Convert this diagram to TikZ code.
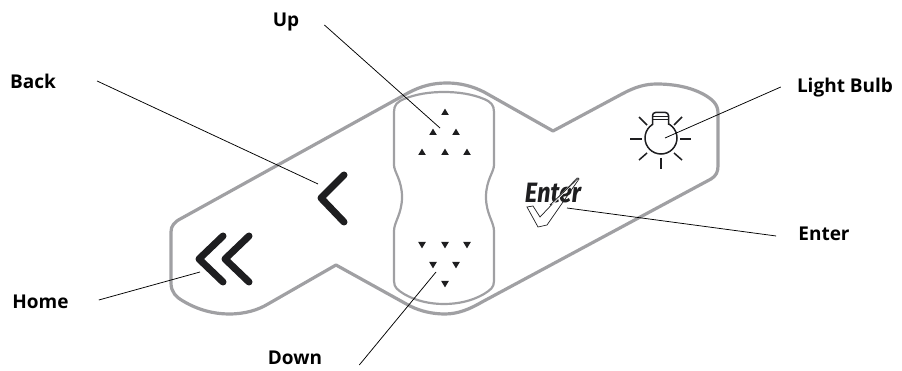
\documentclass[tikz,border=0pt]{standalone}
\usepackage{fontspec}
\setmainfont{Open Sans}
\usetikzlibrary{
    calc,
    positioning
}
\definecolor{panelgray}{HTML}{A0A0A3}
\definecolor{inkblack}{HTML}{1E1E20}
\tikzset{
    label/.style={font=\fontsize{19}{22}\selectfont\bfseries, inner sep=0pt},
    leader/.style={draw=black, line width=0.75pt},
    chevron/.style={draw=inkblack, line width=7pt, line cap=round, line join=round},
    bulbline/.style={draw=inkblack, line width=1.5pt},
    arrowup/.pic={\fill[inkblack] (-3.8,3) -- (3.8,3) -- (0,-3.4) -- cycle;},
    arrowdown/.pic={\fill[inkblack] (-3.8,-3) -- (3.8,-3) -- (0,3.4) -- cycle;}
}

\begin{document}
\begin{tikzpicture}[x=1pt, y=-1pt]
    \useasboundingbox (0, 0) rectangle (902, 371);
    % outer panel
    \draw[panelgray, line width=3.2pt, line join=round]
    (171, 232) -- (171, 283)
    .. controls (171, 292) and (176, 297) .. (183, 301)
    .. controls (198, 310) and (214, 314) .. (229, 314)
    .. controls (245, 314) and (258, 310) .. (268, 304)
    -- (336, 265) -- (410, 306)
    .. controls (420, 311) and (432, 314) .. (445, 314)
    .. controls (458, 314) and (470, 309) .. (482, 302)
    -- (711, 179)
    .. controls (716, 176) and (718, 172) .. (718, 166)
    -- (718, 113)
    .. controls (718, 104) and (712, 99) .. (703, 94)
    .. controls (690, 87) and (673, 84) .. (657, 84)
    .. controls (645, 84) and (635, 87) .. (622, 94)
    -- (553, 131) -- (484, 92)
    .. controls (472, 86) and (460, 83) .. (447, 83)
    .. controls (433, 83) and (421, 86) .. (408, 93)
    -- (182, 218)
    .. controls (174, 222) and (171, 226) .. (171, 232) -- cycle;
    % inner button
    \draw[panelgray, line width=2.2pt]
    (394, 112)
    .. controls (394, 105) and (397, 102) .. (404, 99)
    .. controls (416, 94) and (430, 92) .. (444, 92)
    .. controls (458, 92) and (472, 94) .. (484, 99)
    .. controls (491, 102) and (494, 105) .. (494, 112)
    -- (494, 165)
    .. controls (494, 172) and (486, 180) .. (486, 197)
    .. controls (486, 214) and (494, 222) .. (494, 231)
    -- (494, 281)
    .. controls (494, 288) and (490, 290) .. (484, 294)
    .. controls (472, 301) and (458, 304) .. (444, 304)
    .. controls (430, 304) and (416, 301) .. (404, 294)
    .. controls (398, 290) and (394, 288) .. (394, 281)
    -- (394, 231)
    .. controls (394, 222) and (402, 214) .. (402, 197)
    .. controls (402, 180) and (394, 172) .. (394, 165)
    -- cycle;
    % small triangles
    \foreach \px/\py in {445/112, 433/132, 456/132, 422/152, 445/152, 467/152}
        \pic at (\px, \py) {arrowup};
    \foreach \px/\py in {422/245, 445/245, 467/245, 433/265, 456/265, 445/284}
        \pic at (\px, \py) {arrowdown};
    % chevrons
    \draw[chevron] (344, 175) -- (321, 198) -- (344, 222);
    \draw[chevron] (223, 236) -- (199, 259) -- (223, 282);
    \draw[chevron] (249, 236) -- (225, 259) -- (249, 282);
    % bulb
    \draw[bulbline] (661, 138) circle (16);
    \draw[bulbline, rounded corners=3pt, fill=white]
    (652.5, 125) -- (652.5, 112.5) -- (668.5, 112.5) -- (668.5, 125);
    \draw[bulbline, line width=1pt]
    (653, 116.5) -- (668, 116.5)
    (653, 120) -- (668, 120);
    \foreach \ax/\ay/\bx/\by in {630/139/642/139, 680/139/691/139, 661/158/661/169,
        639/117/647/125, 682/117/674/125, 639/160/647/153, 682/160/674/153}
        \draw[bulbline] (\ax, \ay) -- (\bx, \by);
    % enter logo
    \draw[inkblack, fill=white, line width=0.7pt, line join=miter]
    (527, 207) -- (533, 206) -- (540, 217) -- (577, 178) -- (579, 179)
    -- (547, 225) -- (538, 227) -- cycle;
    \node[inner sep=0pt, text=inkblack] (logo) at (553, 193)
    {\fontspec{Fira Sans}\fontsize{28}{30}\selectfont\itshape\bfseries\addfontfeature{FakeStretch=0.85}Enter};
    \draw[white, line width=1.6pt] (552, 204) -- (578, 178.5);
    \draw[inkblack, line width=0.8pt] (550, 205) -- (578.5, 178);
    % labels
    \node[label] (up) at (286, 22) {Up};
    \node[label] (back) at (33, 81) {Back};
    \node[label] (home) at (40.5, 302) {Home};
    \node[label] (down) at (295, 358) {Down};
    \node[label] (lightbulb) at (845, 88) {Light Bulb};
    \node[label] (enter) at (824, 234) {Enter};
    % leader ends
    \coordinate (upend) at (440, 128);
    \coordinate (backend) at (318, 184);
    \coordinate (homeend) at (200, 272);
    \coordinate (downend) at (436, 272);
    \coordinate (bulbend) at (665, 138);
    \coordinate (enterend) at (567, 208);
    \draw[leader] ([shift={(25, 3)}]up.east) -- (upend);
    \draw[leader] ([shift={(41, 0)}]back.east) -- (backend);
    \draw[leader] ([shift={(30, -2)}]home.east) -- (homeend);
    \draw[leader] ([shift={(37, 7)}]down.east) -- (downend);
    \draw[leader] ([shift={(-16, -1)}]lightbulb.west) -- (bulbend);
    \draw[leader] ([shift={(-22, 2)}]enter.west) -- (enterend);
\end{tikzpicture}
\end{document}
